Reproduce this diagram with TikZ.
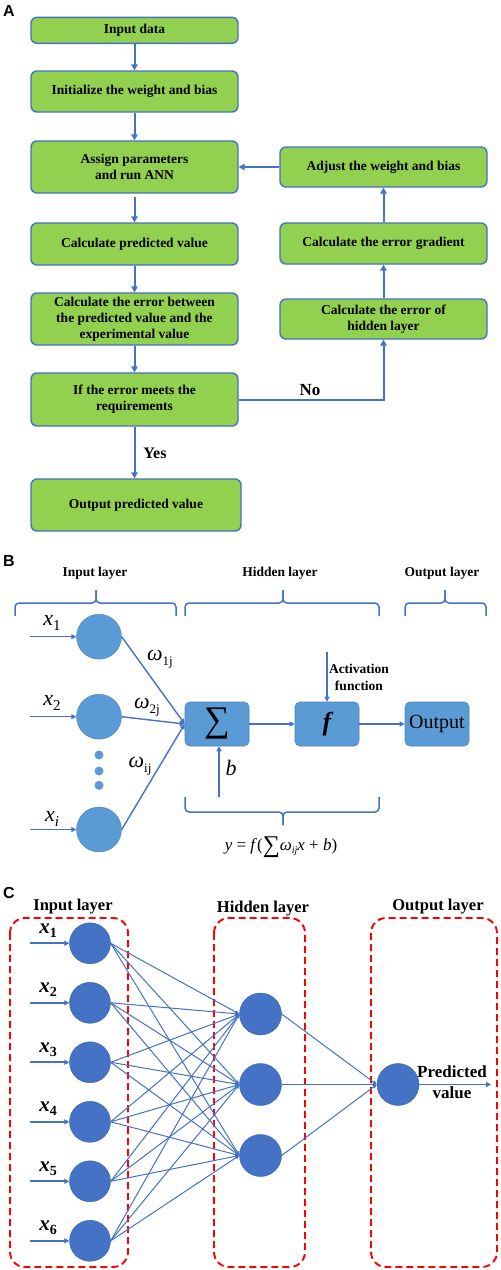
\documentclass[tikz,border=0pt]{standalone}
\usepackage{fontspec}
\setmainfont{Liberation Serif}
\newfontfamily\lsans{Liberation Sans}
\usetikzlibrary{arrows.meta}
\definecolor{boxgreen}{HTML}{92D050}
\definecolor{bblue}{HTML}{4472C4}
\definecolor{lblue}{HTML}{5B9BD5}
\definecolor{dred}{HTML}{FF0000}
\newcommand\fsz[2]{\fontsize{#1}{#2}\selectfont}
\newcommand\cbrace[6]{%
  \draw[bracestyle] (#1,#4) -- (#1,#5) -- (#3,#5) -- (#3,#6);
  \draw[bracestyle] (#3,#6) -- (#3,#5) -- (#2,#5) -- (#2,#4);}
\begin{document}
\begin{tikzpicture}[x=1pt,y=-1pt,
  flow/.style={draw=bblue, line width=1.4pt, fill=boxgreen, rounded corners=6pt,
    minimum width=207pt, inner sep=0pt, align=center, font=\bfseries\fsz{13.5}{16}},
  farrow/.style={draw=bblue, line width=2pt, -{Triangle[length=6pt,width=6.5pt]}},
  panel/.style={font=\lsans\bfseries\fsz{16}{16}},
  lbl/.style={font=\bfseries\fsz{13.5}{16}, align=center},
  bracestyle/.style={draw=bblue, line width=1.5pt, rounded corners=4pt},
  bneuron/.style={circle, fill=lblue, draw=lblue!85!black, line width=0.4pt, minimum size=45pt, inner sep=0pt},
  bbox/.style={fill=lblue, draw=lblue!85!black, line width=0.6pt, rounded corners=5pt, minimum width=64pt, minimum height=44pt, inner sep=0pt},
  barrow/.style={draw=bblue, line width=1.4pt, -{Triangle[length=5pt,width=5pt]}},
  cneuron/.style={circle, fill=bblue, draw=bblue!85!black, line width=0.4pt, minimum size=41pt, inner sep=0pt},
  hneuron/.style={circle, fill=bblue, draw=bblue!85!black, line width=0.4pt, minimum size=42pt, inner sep=0pt},
  cline/.style={draw=bblue, line width=1pt, -{Triangle[length=4pt,width=3.5pt]}},
  carrow/.style={draw=bblue, line width=1.8pt, -{Triangle[length=5pt,width=5pt]}},
  redbox/.style={draw=dred, line width=1.9pt, dash pattern=on 7pt off 4pt, rounded corners=15pt},
  xlab/.style={font=\bfseries\itshape\fsz{21}{21}}
]
\useasboundingbox (0,0) rectangle (501,1270);
\fill[white] (0,0) rectangle (501,1270);

%% ---------------- Panel A ----------------
\node[panel] (labA) at (9,11) {A};
\node[flow, minimum height=26pt] (in) at (134.5,30.3) {Input data};
\node[flow, minimum height=41pt] (init) at (134.5,91.5) {Initialize the weight and bias};
\node[flow, minimum height=52pt] (assign) at (134.5,167) {Assign parameters\\and run ANN};
\node[flow, minimum height=42pt] (pred) at (134.5,244) {Calculate predicted value};
\node[flow, minimum height=52pt] (err) at (134.5,319) {Calculate the error between\\the predicted value and the\\experimental value};
\node[flow, minimum height=53pt] (ifok) at (134.5,399.5) {If the error meets the\\requirements};
\node[flow, minimum height=52pt, minimum width=210pt] (out) at (136,505) {Output predicted value};
\node[flow, minimum height=40pt] (adj) at (383.5,167) {Adjust the weight and bias};
\node[flow, minimum height=41pt] (grad) at (383.5,243.5) {Calculate the error gradient};
\node[flow, minimum height=40pt] (hid) at (383.5,319) {Calculate the error of\\hidden layer};

\draw[farrow] (in) -- (init);
\draw[farrow] (init) -- (assign);
\draw[farrow, shorten <=3pt] (assign) -- (pred);
\draw[farrow] (pred) -- (err);
\draw[farrow] (err) -- (ifok);
\draw[farrow] (ifok.south) -- (ifok.south |- out.north);
\draw[farrow] (ifok.east) -- (ifok.east -| hid.south) -- (hid.south);
\draw[farrow] (grad) -- (adj);
\draw[farrow] (hid) -- (grad);
\draw[farrow] (adj) -- (assign);
\node[font=\bfseries\fsz{17}{17}] (nolab) at (310,390) {No};
\node[font=\bfseries\fsz{16}{16}] (yeslab) at (155,453) {Yes};

%% ---------------- Panel B ----------------
\node[panel] (labB) at (9,561) {B};
\node[lbl] (bin) at (95,573) {Input layer};
\node[lbl] (bhid) at (280,573) {Hidden layer};
\node[lbl] (bout) at (442,573) {Output layer};
\cbrace{15}{176}{96}{616}{603}{590}
\cbrace{185}{379}{283}{616}{603}{590}
\cbrace{405}{486}{445}{616}{603}{590}
\cbrace{185}{379}{283}{797}{812}{825}

\node[bneuron] (n1) at (99,636.7) {};
\node[bneuron] (n2) at (99,716.7) {};
\node[bneuron] (ni) at (99,829.5) {};
\foreach \yy [count=\k] in {755,771,785.3}
  \node[circle, fill=lblue, minimum size=9pt, inner sep=0pt] (dot\k) at (99,\yy) {};

\coordinate (x1s) at (30,636.7);
\coordinate (x2s) at (30,716.7);
\coordinate (xis) at (30,829.5);
\draw[barrow] (x1s) -- (n1.west);
\draw[barrow] (x2s) -- (n2.west);
\draw[barrow] (xis) -- (ni.west);
\node[font=\fsz{22}{22}] (x1lab) at (52,623) {\itshape x\/\raisebox{-5pt}{\upshape\fsz{15}{15}1}};
\node[font=\fsz{22}{22}] (x2lab) at (52,703) {\itshape x\/\raisebox{-5pt}{\upshape\fsz{15}{15}2}};
\node[font=\fsz{22}{22}] (xilab) at (52,819) {\itshape x\/\raisebox{-5pt}{\fsz{15}{15}i}};

\node[bbox] (sig) at (217,724) {\fsz{36}{36}∑};
\node[bbox] (fbox) at (327,724) {\bfseries\itshape\fsz{26}{26}f};
\node[bbox] (obox) at (437,724) {\fsz{20}{20}Output};

\draw[barrow] (n1.east) -- (sig.west);
\draw[barrow] (n2.east) -- (sig.west);
\draw[barrow] (ni.east) -- (sig.west);
\node[font=\fsz{22}{22}] (w1) at (160,659) {\itshape ω\/\raisebox{-5pt}{\upshape\fsz{13}{13}1j}};
\node[font=\fsz{22}{22}] (w2) at (147,707) {\itshape ω\/\raisebox{-5pt}{\upshape\fsz{13}{13}2j}};
\node[font=\fsz{22}{22}] (wi) at (140,766) {\itshape ω\/\raisebox{-5pt}{\upshape\fsz{13}{13}ij}};

\draw[barrow] (sig) -- (fbox);
\draw[barrow] (fbox) -- (obox);
\coordinate (acts) at (327,652);
\draw[barrow] (acts) -- (fbox.north);
\node[font=\bfseries\fsz{13.5}{17}, align=center] (actlab) at (359,677) {Activation\\function};
\coordinate (bs) at (219,797);
\draw[barrow] (bs) -- (bs |- sig.south);
\node[font=\itshape\fsz{22}{22}] (blab) at (231,768) {b};
\node[font=\fsz{17}{17}] (formula) at (281,847) {\itshape y\/ \upshape= \itshape f\/\upshape(\raisebox{-2pt}{\fsz{24}{24}∑}\itshape ω\/\raisebox{-3pt}{\fsz{10}{10}ij}x\/ \upshape+ \itshape b\/\upshape)};

%% ---------------- Panel C ----------------
\node[panel] (labC) at (9,893) {C};
\node[font=\bfseries\fsz{16.5}{16.5}] (cin) at (73,907) {Input layer};
\node[font=\bfseries\fsz{16.5}{16.5}] (chid) at (263,909) {Hidden layer};
\node[font=\bfseries\fsz{16.5}{16.5}] (cout) at (438,907) {Output layer};
\draw[redbox] (10,918) rectangle (128,1267);
\draw[redbox] (214,918) rectangle (305,1267);
\draw[redbox] (371,918) rectangle (497,1267);

\foreach \k in {1,...,6} {
  \pgfmathsetmacro\yy{943.3+(\k-1)*59.5}
  \node[cneuron] (i\k) at (90,\yy) {};
  \coordinate (is\k) at (30,\yy);
  \draw[carrow] (is\k) -- (i\k.west);
  \node[xlab] (xl\k) at (48,\yy-13) {x\/\raisebox{-4pt}{\upshape\fsz{14}{14}\k}};
}
\node[hneuron] (h1) at (260.5,1014) {};
\node[hneuron] (h2) at (260.5,1084.5) {};
\node[hneuron] (h3) at (260.5,1155.5) {};
\node[hneuron] (o1) at (398,1084.5) {};
\foreach \k in {1,...,6}
  \foreach \j in {1,2,3}
    \draw[cline] (i\k.east) -- (h\j.west);
\foreach \j in {1,2,3}
  \draw[cline] (h\j.east) -- (o1.west);
\coordinate (oe) at (491,1084.5);
\draw[carrow] (o1.east) -- (oe);
\node[font=\bfseries\fsz{17}{21}, align=center] (predlab) at (452,1082) {Predicted\\value};
\end{tikzpicture}
\end{document}
